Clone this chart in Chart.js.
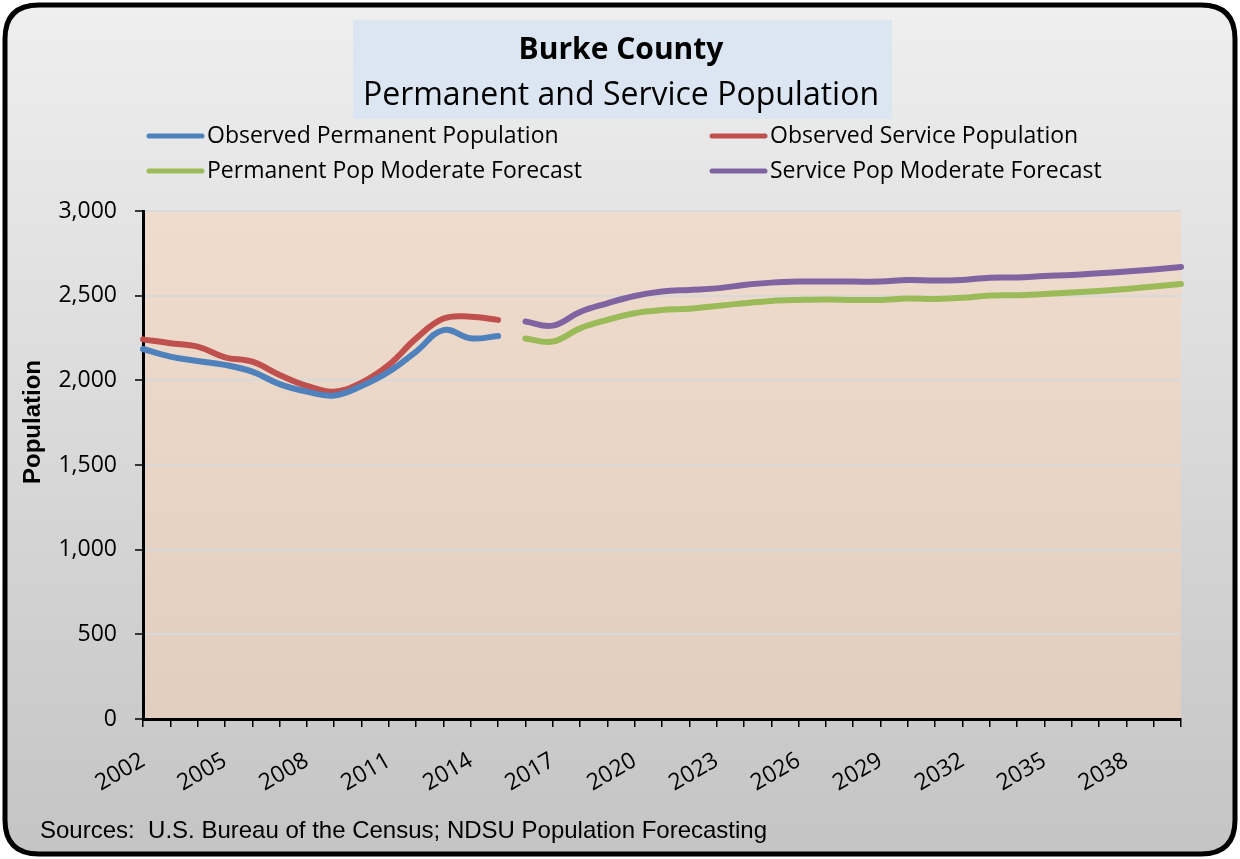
<!DOCTYPE html>
<html>
<head>
<meta charset="utf-8">
<script src="https://cdn.jsdelivr.net/npm/chart.js@4"></script>
<style>
  html, body { margin: 0; padding: 0; background: #ffffff; }
  #wrap { width: 1240px; height: 859px; position: relative; }
</style>
</head>
<body>
<div id="wrap"><canvas id="myChart" width="1240" height="859"></canvas></div>
<script>
// years on the x axis
var years = [];
for (var y = 2002; y <= 2040; y++) years.push(String(y));

// observed 2002-2015
var obsPermanent = [2185, 2140, 2114, 2091, 2051, 1978, 1933, 1910, 1967, 2051, 2170, 2297, 2248, 2262];
var obsService   = [2242, 2219, 2199, 2136, 2110, 2032, 1967, 1933, 1986, 2091, 2248, 2365, 2376, 2357];
// forecast 2016-2040
var fcPermanent = [2247, 2229, 2307, 2357, 2396, 2415, 2423, 2439, 2455, 2469, 2475, 2478, 2475,
                   2475, 2483, 2481, 2487, 2501, 2503, 2510, 2518, 2528, 2540, 2554, 2569];
var fcService   = [2347, 2323, 2404, 2455, 2498, 2524, 2534, 2543, 2563, 2577, 2583, 2583, 2583,
                   2583, 2593, 2589, 2593, 2606, 2608, 2616, 2622, 2632, 2643, 2655, 2669];

var yTicks = [0, 500, 1000, 1500, 2000, 2500, 3000];

var seriesNames = ["Observed Permanent Population", "Observed Service Population",
                   "Permanent Pop Moderate Forecast", "Service Pop Moderate Forecast"];
var seriesColors = ["#4f81bd", "#c0504d", "#9bbb59", "#8064a2"];

var FONT = "'Open Sans', sans-serif";

// pad the short arrays out with nulls so they line up with the years
function padSeries(vals, before) {
  var out = [];
  for (var i = 0; i < years.length; i++) {
    var j = i - before;
    out.push(j >= 0 && j < vals.length ? vals[j] : null);
  }
  return out;
}

function roundRect(ctx, x, y, w, h, r) {
  ctx.beginPath();
  ctx.moveTo(x + r, y);
  ctx.lineTo(x + w - r, y);
  ctx.quadraticCurveTo(x + w, y, x + w, y + r);
  ctx.lineTo(x + w, y + h - r);
  ctx.quadraticCurveTo(x + w, y + h, x + w - r, y + h);
  ctx.lineTo(x + r, y + h);
  ctx.quadraticCurveTo(x, y + h, x, y + h - r);
  ctx.lineTo(x, y + r);
  ctx.quadraticCurveTo(x, y, x + r, y);
  ctx.closePath();
}

var decorPlugin = {
  id: 'decor',
  beforeDraw: function(chart) {
    var ctx = chart.ctx, a = chart.chartArea;
    ctx.save();
    // outer panel
    var g = ctx.createLinearGradient(0, 0, 0, 859);
    g.addColorStop(0, '#efefef');
    g.addColorStop(1, '#c4c4c4');
    roundRect(ctx, 5, 5, 1230, 849, 34);
    ctx.fillStyle = g;
    ctx.fill();
    ctx.lineWidth = 5;
    ctx.strokeStyle = '#000';
    ctx.stroke();
    // plot area
    var pg = ctx.createLinearGradient(0, a.top, 0, a.bottom);
    pg.addColorStop(0, '#efdccd');
    pg.addColorStop(1, '#e2cebf');
    ctx.fillStyle = pg;
    ctx.fillRect(a.left, a.top, a.right - a.left, a.bottom - a.top);
    // title box
    ctx.fillStyle = '#dce6f2';
    ctx.fillRect(353, 20, 539, 99);
    ctx.fillStyle = '#000';
    ctx.textAlign = 'center';
    ctx.textBaseline = 'alphabetic';
    ctx.font = "bold 30px " + FONT;
    ctx.fillText("Burke County", 621, 59);
    ctx.font = "32px " + FONT;
    ctx.fillText("Permanent and Service Population", 621, 105);
    // legend
    var pos = [[147, 136], [710, 136], [147, 171], [710, 171]];
    ctx.font = "23px " + FONT;
    ctx.textAlign = 'left';
    ctx.textBaseline = 'middle';
    for (var i = 0; i < 4; i++) {
      ctx.strokeStyle = seriesColors[i];
      ctx.lineWidth = 5;
      ctx.lineCap = 'round';
      ctx.beginPath();
      ctx.moveTo(pos[i][0] + 2, pos[i][1]);
      ctx.lineTo(pos[i][0] + 55, pos[i][1]);
      ctx.stroke();
      ctx.fillStyle = '#000';
      ctx.fillText(seriesNames[i], pos[i][0] + 60, pos[i][1]);
    }
    // y axis title
    ctx.save();
    ctx.translate(33, 422);
    ctx.rotate(-Math.PI / 2);
    ctx.textAlign = 'center';
    ctx.textBaseline = 'middle';
    ctx.font = "bold 24px 'Liberation Sans', sans-serif";
    ctx.fillText("Population", 0, 0);
    ctx.restore();
    // source note
    ctx.font = "24px 'Liberation Sans', sans-serif";
    ctx.textAlign = 'left';
    ctx.textBaseline = 'alphabetic';
    ctx.fillStyle = '#000';
    ctx.fillText("Sources:  U.S. Bureau of the Census; NDSU Population Forecasting", 40, 838);
    ctx.restore();
  }
};

function drawChart() {
  var ctx = document.getElementById("myChart").getContext("2d");
  var ds = [obsPermanent, obsService, fcPermanent, fcService];
  var datasets = [];
  for (var i = 0; i < 4; i++) {
    datasets.push({
      label: seriesNames[i],
      data: padSeries(ds[i], i < 2 ? 0 : 14),
      borderColor: seriesColors[i],
      borderWidth: 6,
      borderCapStyle: 'round',
      pointRadius: 0,
      tension: 0.4,
      fill: false,
      spanGaps: false
    });
  }
  new Chart(ctx, {
    type: 'line',
    data: { labels: years, datasets: datasets },
    plugins: [decorPlugin],
    options: {
      responsive: false,
      animation: false,
      layout: { padding: { left: 0, top: 211, right: 59, bottom: 0 } },
      plugins: { legend: { display: false }, tooltip: { enabled: false } },
      scales: {
        x: {
          offset: false,
          afterFit: function(s) { s.height = 140; },
          grid: { drawOnChartArea: false, drawTicks: true, tickLength: 8, color: '#000', lineWidth: 1.5 },
          border: { color: '#000', width: 3 },
          ticks: {
            autoSkip: false,
            minRotation: 30,
            maxRotation: 30,
            labelOffset: 0,
            padding: 20,
            color: '#000',
            font: { family: FONT, size: 23 },
            callback: function(v, i) { return i % 3 == 0 ? years[i] : ''; }
          }
        },
        y: {
          min: 0,
          max: 3000,
          afterFit: function(s) { s.width = 143; },
          afterBuildTicks: function(s) { s.ticks = yTicks.map(function(v) { return { value: v }; }); },
          grid: { color: '#d9d9d9', lineWidth: 2, tickLength: 8, tickColor: '#000', tickWidth: 1.5 },
          border: { color: '#000', width: 3 },
          ticks: {
            color: '#000',
            padding: 18,
            font: { family: FONT, size: 23 },
            callback: function(v) { return v.toLocaleString('en-US'); }
          }
        }
      }
    }
  });
}

drawChart();
</script>
</body>
</html>
